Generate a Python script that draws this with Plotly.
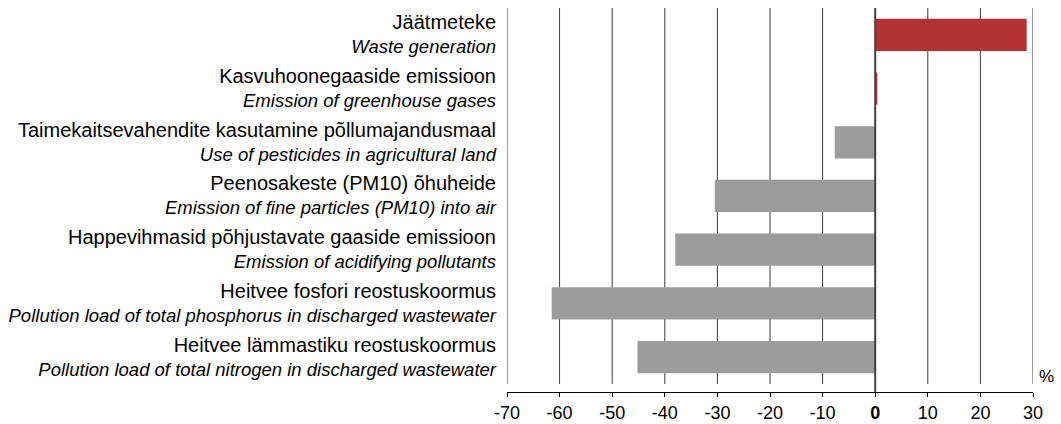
import plotly.graph_objects as go

labels_et = [
    "Jäätmeteke",
    "Kasvuhoonegaaside emissioon",
    "Taimekaitsevahendite kasutamine põllumajandusmaal",
    "Peenosakeste (PM10) õhuheide",
    "Happevihmasid põhjustavate gaaside emissioon",
    "Heitvee fosfori reostuskoormus",
    "Heitvee lämmastiku reostuskoormus",
]
labels_en = [
    "Waste generation",
    "Emission of greenhouse gases",
    "Use of pesticides in agricultural land",
    "Emission of fine particles (PM10) into air",
    "Emission of acidifying pollutants",
    "Pollution load of total phosphorus in discharged wastewater",
    "Pollution load of total nitrogen in discharged wastewater",
]
values = [28.8, 0.4, -7.7, -30.5, -38.0, -61.5, -45.2]
tick_vals = [-70, -60, -50, -40, -30, -20, -10, 0, 10, 20, 30]
tick_text = [str(v) if v != 0 else "<b>0</b>" for v in tick_vals]

RED = "#B23336"
GRAY = "#9C9C9C"

cats = [f"<span style='font-size:20px'>{e}</span><br><i>{n}</i>"
        for e, n in zip(labels_et, labels_en)]
colors = [RED if v > 0 else GRAY for v in values]

fig = go.Figure()
fig.add_trace(go.Bar(
    x=values, y=cats, orientation="h", marker=dict(color=colors, line=dict(width=0)),
    width=0.6, showlegend=False, hoverinfo="skip",
))

n = len(cats)
for v in tick_vals:
    fig.add_shape(type="line", xref="x", yref="y", x0=v, x1=v, y0=-0.5,
                  y1=n - 0.5 + (0.15 if v == 0 else 0),
                  line=dict(color="#3a3a3a" if v != 0 else "#404040", width=1 if v != 0 else 2),
                  layer="above" if v == 0 else "below")

fig.add_annotation(text="%", xref="paper", yref="y", x=1, y=n - 0.5, xanchor="left",
                   yanchor="bottom", xshift=4, yshift=-4, showarrow=False,
                   font=dict(size=17, color="#000"))

fig.update_layout(
    width=1061, height=424,
    margin=dict(l=507, r=28, t=8, b=32, autoexpand=False),
    paper_bgcolor="white", plot_bgcolor="white",
    font=dict(family="Liberation Sans, Arial, sans-serif", color="#000"),
    bargap=0.4, hovermode=False,
)
fig.update_xaxes(range=[-70, 30], tickvals=tick_vals, ticktext=tick_text,
                 showgrid=False, zeroline=False, showline=True, linecolor="#000",
                 linewidth=1, ticks="outside", ticklen=4, tickcolor="#000",
                 tickfont=dict(size=18), automargin=False)
fig.update_yaxes(categoryorder="array", categoryarray=cats, range=[n - 0.5 + 0.15, -0.5],
                 showgrid=False, zeroline=False, showline=False, ticks="",
                 ticklabelstandoff=10, tickfont=dict(size=18.5), automargin=False)

fig.write_html("out.html", config={"displayModeBar": False, "staticPlot": True},
               post_script="document.body.style.margin='0';document.body.style.overflow='hidden';")
